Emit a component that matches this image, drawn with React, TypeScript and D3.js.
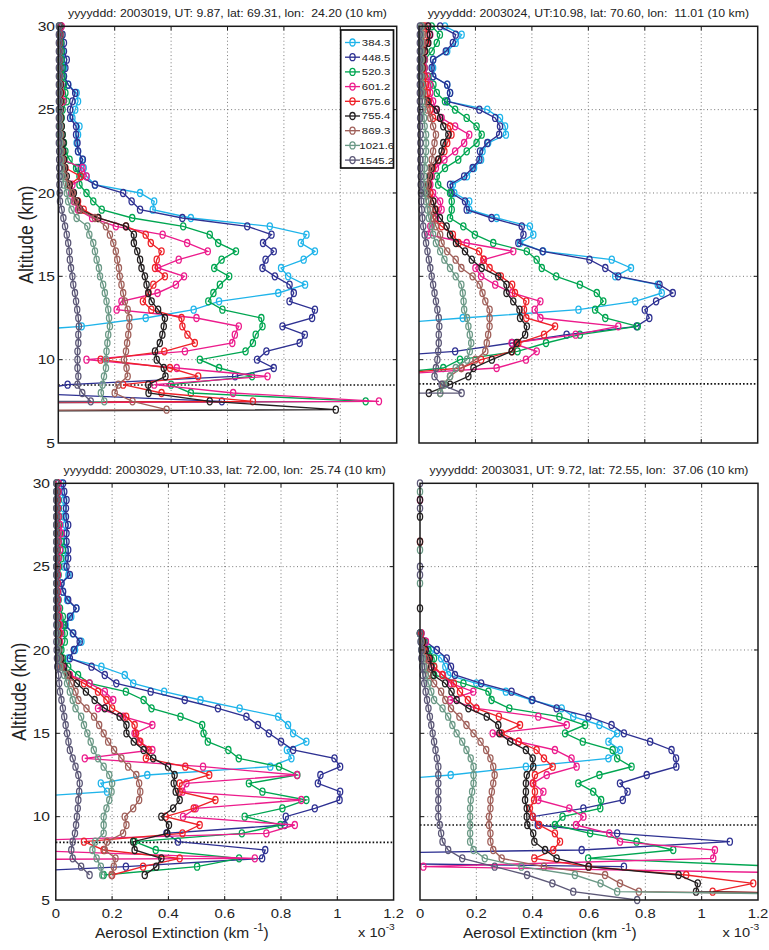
import React from "react";
import * as d3 from "d3";

// ---------------- DATA ----------------
const WAVELENGTHS = ["384.3", "448.5", "520.3", "601.2", "675.6", "755.4", "869.3", "1021.6", "1545.2"];
const COLORS = ["#1FB4EA", "#2E3192", "#00A651", "#EC1C8C", "#EE2229", "#231F20", "#A0605A", "#6B9986", "#5C5877"];

const ALT_A = [30, 29.5, 29, 28.5, 28, 27.5, 27, 26.5, 26, 25.5, 25, 24.5, 24, 23.5, 23, 22.5, 22, 21.5, 21, 20.5,
  20, 19.5, 19, 18.5, 18, 17.5, 17, 16.5, 16, 15.5, 15, 14.5, 14, 13.5, 13, 12.5, 12, 11.5, 11, 10.5,
  10, 9.5, 9, 8.5, 8, 7.5, 7, 6.5];
const ALT_D = [30, 29.5, 29, 28.5, 28, 27.5, 27, 26.5, 26, 25.5, 25, 24.5, 24, 23.5, 23, 22.5, 22, 21.5, 21, 20.5,
  20, 19.5, 19, 18.5, 18, 17.5, 17, 16.5, 16, 15.5, 15, 14.5, 14, 13.5, 13, 12.5, 12, 11.5, 11, 10.5,
  10, 9.5, 9, 8.5, 8, 7.5, 7, 6.5, 6, 5.5, 5];

// Panel 1: 2003019
const A_384 = [0.005, 0.010, 0.010, 0.015, 0.020, 0.020, 0.020, 0.035, 0.065, 0.070,
  0.060, 0.050, 0.075, 0.070, 0.065, 0.070, 0.085, 0.090, 0.100, 0.130,
  0.290, 0.340, 0.335, 0.470, 0.750, 0.880, 0.860, 0.910, 0.870, 0.790,
  0.815, 0.875, 0.780, 0.570, 0.480, 0.310, 0.083, -0.330];
const A_448 = [0.010, 0.015, 0.020, 0.020, 0.030, 0.025, 0.020, 0.035, 0.060, 0.050,
  0.042, 0.042, 0.063, 0.063, 0.068, 0.070, 0.087, 0.070, 0.080, 0.130,
  0.230, 0.260, 0.290, 0.440, 0.670, 0.756, 0.726, 0.764, 0.735, 0.724,
  0.768, 0.820, 0.835, 0.820, 0.910, 0.900, 0.795, 0.874, 0.856, 0.738,
  0.705, 0.764, 0.627, 0.033, -0.150, 0.580, -6];
const A_520 = [0.010, 0.010, 0.010, 0.012, 0.012, 0.015, 0.015, 0.020, 0.025, 0.030,
  0.015, 0.012, 0.012, 0.015, 0.020, 0.025, 0.040, 0.063, 0.075, 0.075,
  0.100, 0.124, 0.154, 0.262, 0.443, 0.537, 0.567, 0.630, 0.579, 0.553,
  0.606, 0.573, 0.550, 0.532, 0.582, 0.720, 0.724, 0.700, 0.690, 0.664,
  0.502, 0.570, 0.687, 0.400, 0.470, 1.090, -6];
const A_601 = [0.012, 0.008, 0.006, 0.006, 0.006, 0.006, 0.006, 0.010, 0.012, 0.018,
  0.008, 0.008, 0.008, 0.008, 0.010, 0.012, 0.015, 0.086, 0.100, 0.050,
  0.045, 0.055, 0.070, 0.120, 0.204, 0.370, 0.457, 0.530, 0.427, 0.354,
  0.446, 0.417, 0.352, 0.224, 0.207, 0.490, 0.640, 0.626, 0.617, 0.449,
  0.100, 0.420, 0.742, 0.340, 0.620, 1.137, -6];
const A_675 = [0.005, 0.005, 0.005, 0.005, 0.005, 0.005, 0.005, 0.008, 0.010, 0.010,
  0.005, 0.005, 0.005, 0.008, 0.010, 0.012, 0.020, 0.025, 0.080, 0.040,
  0.050, 0.070, 0.090, 0.140, 0.240, 0.310, 0.328, 0.366, 0.349, 0.343,
  0.378, 0.337, 0.320, 0.300, 0.330, 0.437, 0.440, 0.458, 0.484, 0.376,
  0.150, 0.396, 0.496, 0.230, 0.366, 0.690, -6];
const A_755 = [0.005, 0.005, 0.005, 0.005, 0.005, 0.005, 0.005, 0.008, 0.008, 0.008,
  0.008, 0.010, 0.012, 0.015, 0.018, 0.018, 0.020, 0.024, 0.030, 0.040,
  0.055, 0.067, 0.077, 0.142, 0.240, 0.268, 0.268, 0.280, 0.290, 0.295,
  0.307, 0.313, 0.319, 0.331, 0.354, 0.378, 0.374, 0.369, 0.360, 0.343,
  0.349, 0.374, 0.380, 0.319, 0.320, 0.537, 0.984, -6];
const A_869 = [0.004, 0.004, 0.004, 0.004, 0.004, 0.004, 0.004, 0.005, 0.005, 0.005,
  0.006, 0.007, 0.008, 0.009, 0.010, 0.012, 0.015, 0.020, 0.025, 0.035,
  0.050, 0.060, 0.075, 0.130, 0.169, 0.183, 0.195, 0.204, 0.209, 0.215,
  0.218, 0.224, 0.230, 0.236, 0.246, 0.252, 0.252, 0.248, 0.244, 0.240,
  0.233, 0.242, 0.246, 0.213, 0.200, 0.263, 0.384, -6];
const A_1021 = [0.003, 0.003, 0.003, 0.004, 0.004, 0.004, 0.004, 0.004, 0.004, 0.004,
  0.005, 0.005, 0.006, 0.006, 0.007, 0.008, 0.010, 0.012, 0.015, 0.020,
  0.030, 0.035, 0.047, 0.065, 0.103, 0.110, 0.124, 0.130, 0.136, 0.144,
  0.148, 0.159, 0.165, 0.171, 0.177, 0.180, 0.183, 0.177, 0.174, 0.171,
  0.169, 0.169, 0.162, 0.157, 0.151, 0.163, -6];
const A_1545 = [0.002, 0.002, 0.002, 0.002, 0.002, 0.002, 0.002, 0.002, 0.002, 0.002,
  0.002, 0.002, 0.002, 0.002, 0.002, 0.003, 0.003, 0.003, 0.004, 0.004,
  0.005, 0.006, 0.012, 0.018, 0.024, 0.030, 0.035, 0.039, 0.041, 0.045,
  0.050, 0.053, 0.059, 0.063, 0.067, 0.071, 0.073, 0.071, 0.071, 0.068,
  0.068, 0.068, 0.071, 0.068, 0.085, 0.115, -6];

// Panel 2: 2003024
const B_384 = [0.092, 0.151, 0.130, 0.100, 0.050, 0.050, 0.050, 0.100, 0.110, 0.100,
  0.242, 0.287, 0.305, 0.308, 0.245, 0.225, 0.220, 0.195, 0.170, 0.120,
  0.125, 0.178, 0.178, 0.275, 0.393, 0.405, 0.358, 0.440, 0.683, 0.751,
  0.695, 0.846, 0.860, 0.766, 0.565, 0.155, -0.23];
const B_448 = [0.075, 0.130, 0.120, 0.095, 0.050, 0.045, 0.050, 0.100, 0.110, 0.100,
  0.214, 0.270, 0.287, 0.284, 0.242, 0.216, 0.214, 0.190, 0.160, 0.110,
  0.115, 0.163, 0.169, 0.257, 0.364, 0.370, 0.352, 0.438, 0.604, 0.660,
  0.706, 0.852, 0.899, 0.840, 0.800, 0.816, 0.771, 0.523, 0.330, 0.128,
  -0.300];
const B_520 = [0.045, 0.074, 0.063, 0.045, 0.021, 0.020, 0.033, 0.051, 0.063, 0.092,
  0.128, 0.169, 0.204, 0.222, 0.204, 0.169, 0.139, 0.092, 0.063, 0.068,
  0.110, 0.116, 0.116, 0.110, 0.157, 0.198, 0.263, 0.382, 0.417, 0.435,
  0.486, 0.570, 0.630, 0.653, 0.624, 0.660, 0.775, 0.570, 0.450, 0.349,
  0.145, 0.086, -0.200];
const B_601 = [0.030, 0.040, 0.030, 0.020, 0.020, 0.020, 0.030, 0.040, 0.040, 0.050,
  0.060, 0.080, 0.128, 0.178, 0.160, 0.128, 0.090, 0.060, 0.045, 0.040,
  0.050, 0.075, 0.080, 0.060, 0.040, 0.033, 0.169, 0.334, 0.230, 0.200,
  0.220, 0.270, 0.330, 0.430, 0.410, 0.430, 0.706, 0.555, 0.328, 0.417,
  0.379, 0.275, -0.200];
const B_675 = [0.020, 0.030, 0.030, 0.020, 0.015, 0.015, 0.020, 0.025, 0.030, 0.035,
  0.040, 0.050, 0.110, 0.115, 0.100, 0.090, 0.070, 0.050, 0.040, 0.035,
  0.040, 0.050, 0.060, 0.050, 0.080, 0.120, 0.140, 0.213, 0.228, 0.250,
  0.290, 0.330, 0.340, 0.380, 0.372, 0.380, 0.482, 0.443, 0.352, 0.330,
  0.220, 0.150, -0.200];
const B_755 = [0.033, 0.038, 0.033, 0.022, 0.015, 0.012, 0.010, 0.012, 0.015, 0.030,
  0.063, 0.075, 0.086, 0.104, 0.086, 0.080, 0.068, 0.045, 0.039, 0.033,
  0.027, 0.051, 0.057, 0.074, 0.098, 0.110, 0.131, 0.163, 0.187, 0.222,
  0.281, 0.310, 0.310, 0.334, 0.356, 0.358, 0.382, 0.376, 0.346, 0.328,
  0.258, 0.193, 0.175, 0.110, 0.035];
const B_869 = [0.012, 0.015, 0.015, 0.012, 0.010, 0.010, 0.010, 0.012, 0.015, 0.020,
  0.030, 0.040, 0.050, 0.060, 0.055, 0.050, 0.045, 0.040, 0.035, 0.030,
  0.030, 0.035, 0.040, 0.050, 0.060, 0.075, 0.080, 0.100, 0.130, 0.150,
  0.190, 0.215, 0.225, 0.235, 0.250, 0.250, 0.250, 0.245, 0.240, 0.235,
  0.200, 0.150, 0.110, 0.085, 0.075];
const B_1021 = [0.008, 0.008, 0.008, 0.008, 0.008, 0.008, 0.008, 0.010, 0.010, 0.012,
  0.015, 0.018, 0.020, 0.025, 0.025, 0.025, 0.022, 0.020, 0.018, 0.018,
  0.020, 0.025, 0.030, 0.035, 0.045, 0.050, 0.060, 0.075, 0.090, 0.110,
  0.130, 0.150, 0.155, 0.158, 0.160, 0.170, 0.175, 0.180, 0.185, 0.180,
  0.170, 0.130, 0.110, 0.090, 0.075];
const B_1545 = [0.003, 0.003, 0.003, 0.003, 0.003, 0.003, 0.003, 0.003, 0.003, 0.003,
  0.004, 0.004, 0.004, 0.005, 0.005, 0.005, 0.005, 0.005, 0.006, 0.006,
  0.007, 0.008, 0.010, 0.012, 0.015, 0.020, 0.025, 0.030, 0.035, 0.040,
  0.045, 0.050, 0.055, 0.060, 0.065, 0.070, 0.072, 0.070, 0.070, 0.068,
  0.065, 0.060, 0.055, 0.080, 0.151, -8];

// Panel 3: 2003029
const C_384 = [0.020, 0.022, 0.030, 0.028, 0.030, 0.035, 0.030, 0.030, 0.035, 0.035,
  0.030, 0.045, 0.020, 0.025, 0.040, 0.073, 0.055, 0.035, 0.060, 0.091,
  0.068, 0.044, 0.162, 0.245, 0.275, 0.385, 0.514, 0.653, 0.790, 0.825,
  0.843, 0.890, 0.821, 0.837, 0.762, 0.325, 0.160, 0.182, -0.270];
const C_448 = [0.026, 0.030, 0.038, 0.036, 0.036, 0.044, 0.038, 0.038, 0.044, 0.044,
  0.038, 0.050, 0.020, 0.026, 0.044, 0.073, 0.050, 0.032, 0.062, 0.085,
  0.064, 0.050, 0.127, 0.174, 0.215, 0.337, 0.458, 0.576, 0.677, 0.718,
  0.757, 0.800, 0.843, 0.990, 1.010, 0.940, 0.931, 1.010, 1.008, 0.920,
  0.817, 0.813, 0.393, 0.434, 0.744, 0.733, 0.249, -0.400];
const C_520 = [0.005, 0.008, 0.010, 0.010, 0.012, 0.012, 0.015, 0.020, 0.025, 0.020,
  0.012, 0.010, 0.008, 0.008, 0.010, 0.015, 0.025, 0.028, 0.032, 0.032,
  0.020, 0.026, 0.044, 0.079, 0.120, 0.249, 0.312, 0.340, 0.443, 0.520,
  0.525, 0.540, 0.613, 0.650, 0.793, 0.858, 0.686, 0.734, 0.890, 0.805,
  0.671, 0.798, 0.661, 0.280, 0.355, 0.651, 0.502, 0.170];
const C_601 = [0.010, 0.010, 0.008, 0.008, 0.010, 0.015, 0.020, 0.010, 0.015, 0.010,
  0.008, 0.008, 0.008, 0.008, 0.008, 0.010, 0.012, 0.015, 0.018, 0.015,
  0.010, 0.015, 0.025, 0.050, 0.120, 0.174, 0.204, 0.150, 0.240, 0.343,
  0.280, 0.296, 0.343, 0.103, 0.523, 0.857, 0.464, 0.450, 0.872, 0.497,
  0.452, 0.849, 0.748, -0.250, -0.150, 0.707, -6];
const C_675 = [0.005, 0.005, 0.005, 0.005, 0.005, 0.005, 0.005, 0.005, 0.005, 0.005,
  0.005, 0.005, 0.005, 0.005, 0.005, 0.005, 0.008, 0.010, 0.012, 0.012,
  0.010, 0.012, 0.020, 0.045, 0.100, 0.150, 0.180, 0.200, 0.250, 0.280,
  0.285, 0.300, 0.330, 0.320, 0.460, 0.545, 0.440, 0.440, 0.567, 0.490,
  0.390, 0.511, 0.450, 0.100, 0.170, 0.440, 0.310, 0.200];
const C_755 = [0.004, 0.004, 0.004, 0.004, 0.004, 0.004, 0.004, 0.004, 0.004, 0.004,
  0.004, 0.004, 0.004, 0.004, 0.004, 0.004, 0.005, 0.006, 0.008, 0.010,
  0.012, 0.020, 0.030, 0.045, 0.075, 0.107, 0.138, 0.174, 0.227, 0.251,
  0.251, 0.277, 0.312, 0.346, 0.399, 0.422, 0.419, 0.426, 0.440, 0.417,
  0.375, 0.402, 0.396, 0.275, 0.280, 0.375, 0.357, 0.316];
const C_869 = [0.003, 0.003, 0.003, 0.003, 0.003, 0.003, 0.003, 0.003, 0.003, 0.003,
  0.003, 0.003, 0.003, 0.003, 0.003, 0.003, 0.004, 0.005, 0.006, 0.008,
  0.010, 0.015, 0.020, 0.040, 0.055, 0.070, 0.080, 0.109, 0.136, 0.154,
  0.170, 0.186, 0.207, 0.233, 0.257, 0.286, 0.296, 0.300, 0.296, 0.275,
  0.245, 0.251, 0.239, 0.182, 0.174, 0.212, 0.206, 0.198];
const C_1021 = [0.002, 0.002, 0.002, 0.002, 0.002, 0.002, 0.002, 0.002, 0.002, 0.002,
  0.002, 0.002, 0.002, 0.002, 0.002, 0.002, 0.003, 0.004, 0.005, 0.006,
  0.008, 0.010, 0.015, 0.030, 0.040, 0.050, 0.060, 0.070, 0.090, 0.100,
  0.112, 0.124, 0.135, 0.150, 0.170, 0.190, 0.200, 0.198, 0.190, 0.180,
  0.170, 0.170, 0.170, 0.140, 0.130, 0.145, 0.160, 0.165];
const C_1545 = [0.002, 0.002, 0.002, 0.002, 0.002, 0.002, 0.002, 0.002, 0.002, 0.002,
  0.002, 0.002, 0.002, 0.002, 0.002, 0.002, 0.002, 0.002, 0.002, 0.002,
  0.003, 0.004, 0.005, 0.010, 0.012, 0.015, 0.020, 0.025, 0.030, 0.035,
  0.040, 0.045, 0.050, 0.060, 0.070, 0.080, 0.085, 0.083, 0.080, 0.078,
  0.075, 0.072, 0.068, 0.060, 0.055, 0.060, 0.090, 0.120];

// Panel 4: 2003031 (values slightly below zero are hidden behind the axis)
const D_384 = [-0.02, -0.02, -0.02, -0.02, -0.02, -0.02, -0.02, -0.02, -0.02, -0.02,
  -0.02, -0.02, -0.02, -0.02, -0.02, -0.02, -0.02, -0.02, 0.000, 0.015,
  0.040, 0.075, 0.090, 0.100, 0.200, 0.305, 0.396, 0.503, 0.544, 0.637,
  0.700, 0.669, 0.710, 0.669, 0.376, 0.109, -0.280];
const D_448 = [-0.02, -0.02, -0.02, -0.02, -0.02, -0.02, -0.02, -0.02, -0.02, -0.02,
  -0.02, -0.02, -0.02, -0.02, -0.02, -0.02, -0.02, -0.02, 0.005, 0.020,
  0.060, 0.095, 0.110, 0.124, 0.217, 0.325, 0.399, 0.485, 0.598, 0.680,
  0.724, 0.817, 0.893, 0.909, 0.910, 0.805, 0.710, 0.737, 0.720, 0.580,
  0.400, 0.418, 0.700, 1.100, 0.574, -1.500, 0.724];
const D_520 = [-0.02, -0.02, -0.02, -0.02, -0.02, -0.02, -0.02, -0.02, -0.02, -0.02,
  -0.02, -0.02, -0.02, -0.02, -0.02, -0.02, -0.02, -0.02, 0.000, 0.015,
  0.030, 0.050, 0.050, 0.050, 0.154, 0.243, 0.254, 0.317, 0.495, 0.586,
  0.515, 0.578, 0.684, 0.700, 0.751, 0.637, 0.562, 0.615, 0.643, 0.640,
  0.506, 0.479, 0.604, 0.769, 0.899, 0.597, 1.300, 3.000];
const D_601 = [-0.02, -0.02, 0.000, -0.02, -0.02, -0.02, -0.02, -0.02, -0.02, -0.02,
  -0.02, -0.02, -0.02, -0.02, -0.02, -0.02, -0.02, -0.02, 0.005, 0.021,
  0.020, 0.030, 0.040, 0.080, 0.110, 0.189, 0.107, 0.200, 0.420, 0.521,
  0.258, 0.350, 0.479, 0.538, 0.556, 0.450, 0.400, 0.438, 0.420, 0.530,
  0.580, 0.554, 0.672, 0.710, 1.047, 1.041, 0.012, 1.800];
const D_675 = [-0.02, -0.02, -0.02, -0.02, -0.02, -0.02, -0.02, 0.000, -0.02, -0.02,
  -0.02, -0.02, -0.02, -0.02, -0.02, -0.02, -0.02, -0.02, 0.003, 0.010,
  0.015, 0.030, 0.050, 0.080, 0.120, 0.142, 0.170, 0.200, 0.280, 0.355,
  0.290, 0.350, 0.414, 0.440, 0.471, 0.408, 0.402, 0.408, 0.405, 0.390,
  0.400, 0.423, 0.479, 0.497, 0.473, 0.406, 0.600, 0.945, 1.183, 1.039, 3.000];
const D_755 = [-0.02, -0.02, 0.000, -0.02, 0.000, -0.02, -0.02, 0.000, -0.02, -0.02,
  -0.02, -0.02, -0.02, -0.02, -0.02, 0.000, -0.02, -0.02, 0.000, 0.010,
  0.020, 0.035, 0.040, 0.047, 0.089, 0.112, 0.130, 0.172, 0.237, 0.278,
  0.282, 0.320, 0.376, 0.400, 0.402, 0.379, 0.376, 0.376, 0.373, 0.379,
  0.379, 0.381, 0.402, 0.406, 0.444, 0.485, 0.598, 0.918, 0.986, 0.980, 3.000];
const D_869 = [-0.02, -0.02, -0.02, -0.02, -0.02, -0.02, -0.02, -0.02, -0.02, -0.02,
  -0.02, -0.02, -0.02, -0.02, -0.02, -0.02, -0.02, -0.02, 0.000, 0.005,
  0.010, 0.020, 0.025, 0.030, 0.050, 0.075, 0.090, 0.110, 0.140, 0.165,
  0.190, 0.215, 0.235, 0.250, 0.260, 0.265, 0.260, 0.255, 0.250, 0.250,
  0.245, 0.245, 0.250, 0.250, 0.260, 0.290, 0.440, 0.657, 0.710, 0.777, 3.000];
const D_1021 = [-0.02, 0.000, -0.02, -0.02, -0.02, -0.02, -0.02, -0.02, 0.000, -0.02,
  -0.02, -0.02, 0.000, -0.02, -0.02, -0.02, -0.02, -0.02, 0.000, 0.003,
  0.005, 0.010, 0.015, 0.020, 0.030, 0.040, 0.050, 0.080, 0.100, 0.115,
  0.130, 0.150, 0.165, 0.180, 0.190, 0.190, 0.190, 0.185, 0.180, 0.178,
  0.178, 0.178, 0.178, 0.178, 0.190, 0.230, 0.360, 0.550, 0.641, 0.700, 3.000];
const D_1545 = [0.000, -0.02, -0.02, 0.000, -0.02, -0.02, -0.02, -0.02, -0.02, -0.02,
  0.000, 0.000, -0.02, -0.02, -0.02, -0.02, -0.02, -0.02, 0.000, 0.002,
  0.005, 0.005, 0.008, 0.010, 0.015, 0.020, 0.025, 0.030, 0.035, 0.040,
  0.045, 0.050, 0.055, 0.060, 0.065, 0.065, 0.065, 0.065, 0.065, 0.065,
  0.065, 0.070, 0.075, 0.080, 0.100, 0.150, 0.265, 0.380, 0.470, 0.544, 0.771];

const TITLES = [
  "yyyyddd: 2003019, UT: 9.87, lat: 69.31, lon:  24.20 (10 km)",
  "yyyyddd: 2003024, UT:10.98, lat: 70.60, lon:  11.01 (10 km)",
  "yyyyddd: 2003029, UT:10.33, lat: 72.00, lon:  25.74 (10 km)",
  "yyyyddd: 2003031, UT: 9.72, lat: 72.55, lon:  37.06 (10 km)",
];
const TROPOPAUSE = [8.48, 8.55, 8.46, 9.5];
const X_TICKS = [0, 0.2, 0.4, 0.6, 0.8, 1, 1.2];
const X_TICK_LABELS = ["0", "0.2", "0.4", "0.6", "0.8", "1", "1.2"];
const Y_TICKS = [5, 10, 15, 20, 25, 30];
const Y_TICK_LABELS = ["5", "10", "15", "20", "25", "30"];

const PANEL_ALTS = [ALT_A, ALT_A, ALT_A, ALT_D];
const PANEL_SERIES = [
  [A_384, A_448, A_520, A_601, A_675, A_755, A_869, A_1021, A_1545],
  [B_384, B_448, B_520, B_601, B_675, B_755, B_869, B_1021, B_1545],
  [C_384, C_448, C_520, C_601, C_675, C_755, C_869, C_1021, C_1545],
  [D_384, D_448, D_520, D_601, D_675, D_755, D_869, D_1021, D_1545],
];

// ---------------- LAYOUT ----------------
const FONT = "'Liberation Sans', Arial, Helvetica, sans-serif";
const LAYOUT = [
  { x0: 58.3, x1: 396.7, y0: 26.3, y1: 443, yLabels: true, yTickRight: 55, yTitleX: 33, xLabels: false, xTitleX: 0, legend: true },
  { x0: 419, x1: 757.7, y0: 26.3, y1: 443, yLabels: false, yTickRight: 0, yTitleX: 0, xLabels: false, xTitleX: 0, legend: false },
  { x0: 55.8, x1: 393.6, y0: 483.3, y1: 900, yLabels: true, yTickRight: 50, yTitleX: 26, xLabels: true, xTitleX: 95, legend: false },
  { x0: 420, x1: 758, y0: 483.3, y1: 900, yLabels: false, yTickRight: 0, yTitleX: 0, xLabels: true, xTitleX: 463, legend: false },
];

function T(props: { x: number; y: number; size: number; sx?: number; anchor?: string; children: any; fill?: string }) {
  const { x, y, size, sx = 1, anchor = "start", children, fill = "#222" } = props;
  return (
    <text transform={`translate(${x},${y}) scale(${sx},1)`} fontSize={size} textAnchor={anchor as any}
      fontFamily={FONT} fill={fill} style={{ whiteSpace: "pre" }}>{children}</text>
  );
}

function Marker({ cx, cy, color }: { cx: number; cy: number; color: string }) {
  return <ellipse cx={cx} cy={cy} rx={2.6} ry={3.5} fill="none" stroke={color} strokeWidth={1.3} />;
}

function Panel({ idx }: { idx: number }) {
  const L = LAYOUT[idx];
  const alts = PANEL_ALTS[idx];
  const series = PANEL_SERIES[idx];
  const x = d3.scaleLinear().domain([0, 1.2]).range([L.x0, L.x1]);
  const y = d3.scaleLinear().domain([5, 30]).range([L.y1, L.y0]);
  const clipId = `clip${idx}`;
  const line = d3.line<[number, number]>().x((d) => x(d[0])).y((d) => y(d[1]));
  const tick = 4;

  return (
    <g>
      <defs>
        <clipPath id={clipId}>
          <rect x={L.x0} y={L.y0} width={L.x1 - L.x0} height={L.y1 - L.y0} />
        </clipPath>
      </defs>
      <rect x={L.x0} y={L.y0} width={L.x1 - L.x0} height={L.y1 - L.y0} fill="#fff" />
      {/* grid */}
      {X_TICKS.slice(1, -1).map((v) => (
        <line key={"gx" + v} x1={x(v)} x2={x(v)} y1={L.y0} y2={L.y1} stroke="#6a6a6a" strokeWidth={0.9} strokeDasharray="1 2.6" />
      ))}
      {Y_TICKS.slice(1, -1).map((v) => (
        <line key={"gy" + v} x1={L.x0} x2={L.x1} y1={y(v)} y2={y(v)} stroke="#6a6a6a" strokeWidth={0.9} strokeDasharray="1 2.6" />
      ))}
      {/* tropopause */}
      <line x1={L.x0} x2={L.x1} y1={y(TROPOPAUSE[idx])} y2={y(TROPOPAUSE[idx])} stroke="#111" strokeWidth={1.6} strokeDasharray="1.6 2" />
      {/* series */}
      {series.map((vals, si) => {
        const pts: [number, number][] = vals.map((v, i) => [v, alts[i]]);
        return (
          <g key={si}>
            <path d={line(pts) || ""} fill="none" stroke={COLORS[si]} strokeWidth={1.35} clipPath={`url(#${clipId})`} />
            {pts.filter((p) => p[0] >= -0.004 && p[0] <= 1.204).map((p, k) => (
              <Marker key={k} cx={x(p[0])} cy={y(p[1])} color={COLORS[si]} />
            ))}
          </g>
        );
      })}
      {/* box + ticks */}
      <rect x={L.x0} y={L.y0} width={L.x1 - L.x0} height={L.y1 - L.y0} fill="none" stroke="#1a1a1a" strokeWidth={1.5} />
      {X_TICKS.slice(1, -1).map((v) => (
        <g key={"tx" + v}>
          <line x1={x(v)} x2={x(v)} y1={L.y1} y2={L.y1 - tick} stroke="#1a1a1a" strokeWidth={1} />
          <line x1={x(v)} x2={x(v)} y1={L.y0} y2={L.y0 + tick} stroke="#1a1a1a" strokeWidth={1} />
        </g>
      ))}
      {Y_TICKS.slice(1, -1).map((v) => (
        <g key={"ty" + v}>
          <line x1={L.x0} x2={L.x0 + tick} y1={y(v)} y2={y(v)} stroke="#1a1a1a" strokeWidth={1} />
          <line x1={L.x1} x2={L.x1 - tick} y1={y(v)} y2={y(v)} stroke="#1a1a1a" strokeWidth={1} />
        </g>
      ))}
      {/* title */}
      <T x={(L.x0 + L.x1) / 2} y={L.y0 - 9.7} size={11.5} sx={1.07} anchor="middle">{TITLES[idx]}</T>
      {/* y labels */}
      {L.yLabels && Y_TICKS.map((v, i) => (
        <T key={"yl" + v} x={L.yTickRight} y={y(v) + 4.7} size={13} sx={1.2} anchor="end">{Y_TICK_LABELS[i]}</T>
      ))}
      {L.yLabels && (
        <text transform={`translate(${L.yTitleX},${(L.y0 + L.y1) / 2}) rotate(-90) scale(1,1.15)`} fontSize={17.5}
          textAnchor="middle" fontFamily={FONT} fill="#222">Altitude (km)</text>
      )}
      {/* x labels */}
      {L.xLabels && X_TICKS.map((v, i) => (
        <T key={"xl" + v} x={x(v)} y={918.3} size={13.5} sx={1.1} anchor="middle">{X_TICK_LABELS[i]}</T>
      ))}
      {L.xLabels && (
        <text transform={`translate(${L.xTitleX},937.5) scale(1.07,1)`} fontSize={14.5} fontFamily={FONT} fill="#222">
          Aerosol Extinction (km
          <tspan dx={4} dy={-6.5} fontSize={10.5}>-1</tspan>
          <tspan dy={6.5}>)</tspan>
        </text>
      )}
      {L.xLabels && (
        <text transform={`translate(${L.x1 - 35.5},937) scale(1.08,1)`} fontSize={13.5} fontFamily={FONT} fill="#222">
          x 10
          <tspan dy={-7} fontSize={9.5}>-3</tspan>
        </text>
      )}
      {L.legend && <Legend />}
    </g>
  );
}

function Legend() {
  const bx = 340.7, by = 30, bw = 52.8, bh = 138;
  return (
    <g>
      <rect x={bx} y={by} width={bw} height={bh} fill="#fff" stroke="#111" strokeWidth={1.7} />
      {WAVELENGTHS.map((w, i) => {
        const yy = 42.5 + i * 14.7;
        return (
          <g key={w}>
            <line x1={345} x2={360} y1={yy} y2={yy} stroke={COLORS[i]} strokeWidth={1.35} />
            <Marker cx={352.5} cy={yy} color={COLORS[i]} />
            <T x={w.length > 5 ? 359.3 : 361.8} y={yy + 3.4} size={9.5} sx={1.2}>{w}</T>
          </g>
        );
      })}
    </g>
  );
}

export default function App() {
  return (
    <svg width={769} height={950} style={{ position: "absolute", left: 0, top: 0, background: "#fff" }}>
      <rect x={0} y={0} width={769} height={950} fill="#fff" />
      {[0, 1, 2, 3].map((i) => <Panel key={i} idx={i} />)}
    </svg>
  );
}
